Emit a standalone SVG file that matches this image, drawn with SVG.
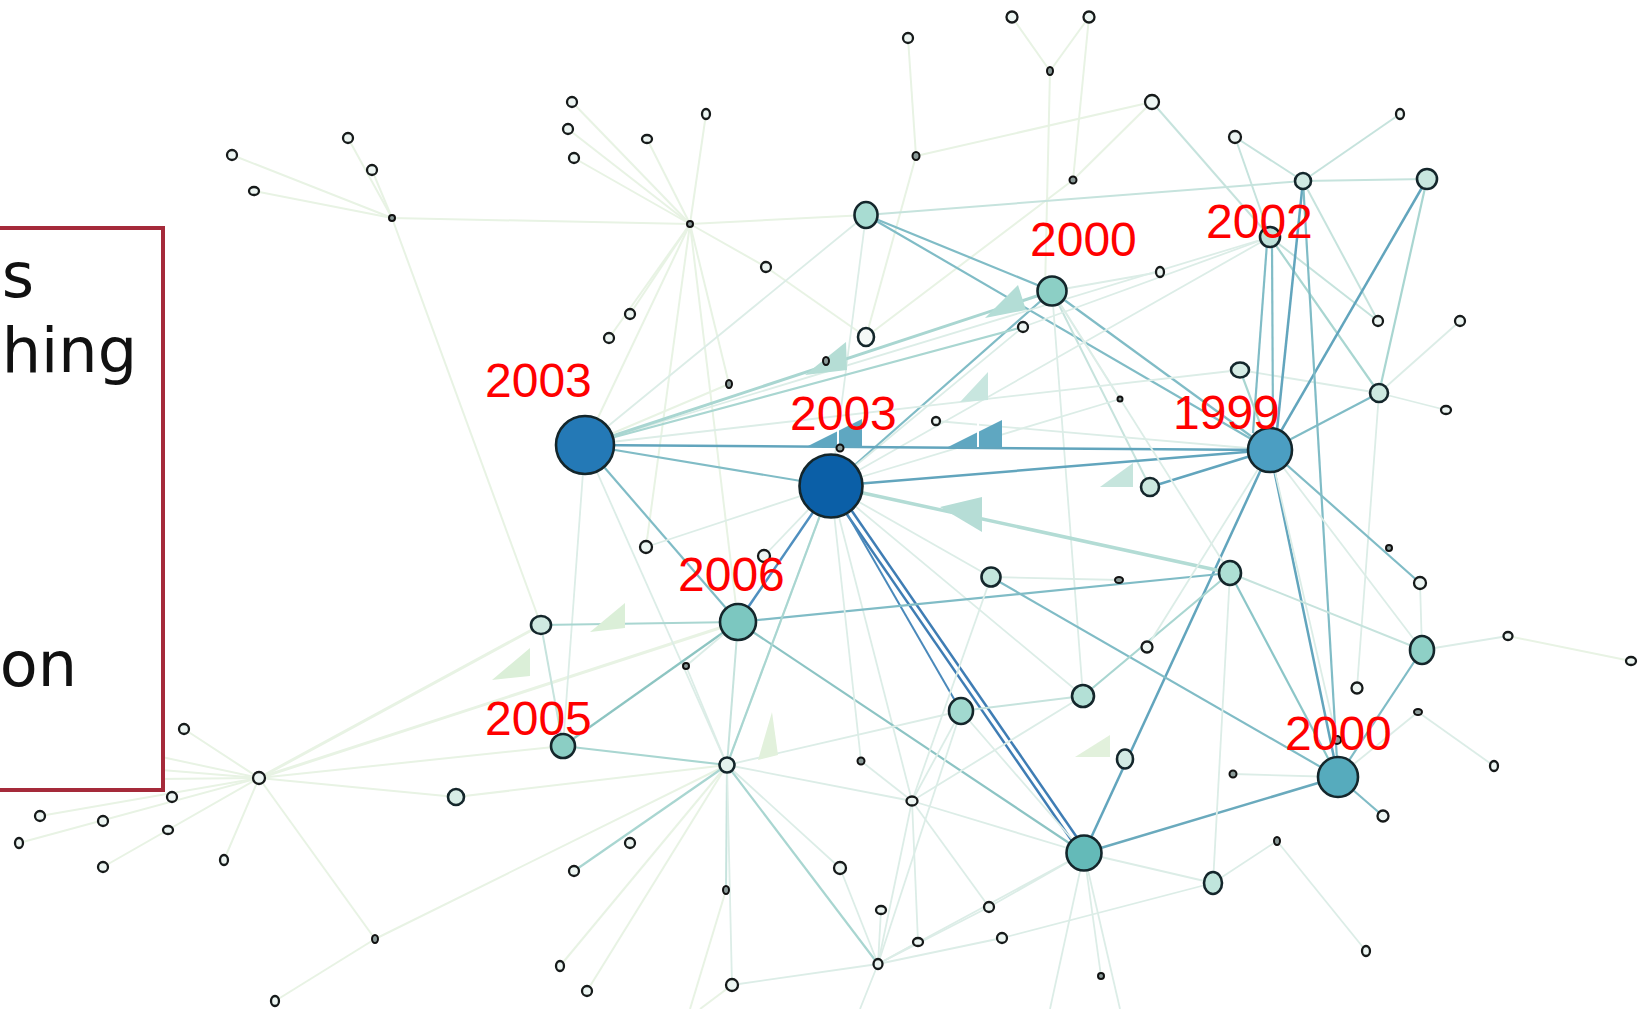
<svg xmlns="http://www.w3.org/2000/svg" width="1652" height="1009" viewBox="0 0 1652 1009">
<defs>
<style>
.p0{stroke:#e8f3e4;stroke-width:2;fill:none}
.p1{stroke:#dcede7;stroke-width:1.8;fill:none}
.p2{stroke:#c6e3dd;stroke-width:2;fill:none}
.t1{stroke:#a9d6d1;stroke-width:2.2;fill:none}
.t2{stroke:#80bcc6;stroke-width:2.2;fill:none}
.t3{stroke:#62a5bd;stroke-width:2.5;fill:none}
.b1{stroke:#3f7db4;stroke-width:2.5;fill:none}
.n{stroke:#14262b;stroke-width:2.6}
.s{fill:#edf6f3;stroke:#161a1a;stroke-width:2.3}
.d{fill:#8a9a98;stroke:#111;stroke-width:2}
.lbl{font-family:"Liberation Sans",Arial,sans-serif;font-size:48px;fill:#ff0000}
.box{font-family:"DejaVu Sans","Open Sans",sans-serif;font-size:62px;fill:#111}
</style>
</defs>
<rect width="1652" height="1009" fill="#ffffff"/>
<g id="edges">
<line class="p0" x1="259" y1="778" x2="184" y2="729"/>
<line class="p0" x1="259" y1="778" x2="40" y2="816"/>
<line class="p0" x1="259" y1="778" x2="19" y2="843"/>
<line class="p0" x1="259" y1="778" x2="103" y2="867"/>
<line class="p0" x1="259" y1="778" x2="224" y2="860"/>
<line class="p0" x1="259" y1="778" x2="375" y2="939"/>
<line class="p0" x1="259" y1="778" x2="456" y2="797"/>
<line class="p0" x1="259" y1="778" x2="738" y2="622" style="stroke-width:3"/>
<line class="p0" x1="259" y1="778" x2="541" y2="625" style="stroke-width:3"/>
<line class="p0" x1="259" y1="778" x2="563" y2="746"/>
<line class="p0" x1="259" y1="778" x2="60" y2="735"/>
<line class="p0" x1="259" y1="778" x2="40" y2="760"/>
<line class="p0" x1="259" y1="778" x2="60" y2="780"/>
<line class="p0" x1="375" y1="939" x2="275" y2="1001"/>
<line class="p0" x1="375" y1="939" x2="727" y2="765"/>
<line class="p0" x1="456" y1="797" x2="727" y2="765"/>
<line class="p0" x1="392" y1="218" x2="232" y2="155"/>
<line class="p0" x1="392" y1="218" x2="254" y2="191"/>
<line class="p0" x1="392" y1="218" x2="348" y2="138"/>
<line class="p0" x1="392" y1="218" x2="372" y2="170"/>
<line class="p0" x1="392" y1="218" x2="690" y2="224"/>
<line class="p0" x1="392" y1="218" x2="541" y2="625"/>
<line class="p0" x1="690" y1="224" x2="572" y2="102"/>
<line class="p0" x1="690" y1="224" x2="568" y2="129"/>
<line class="p0" x1="690" y1="224" x2="574" y2="158"/>
<line class="p0" x1="690" y1="224" x2="647" y2="139"/>
<line class="p0" x1="690" y1="224" x2="706" y2="114"/>
<line class="p0" x1="690" y1="224" x2="766" y2="267"/>
<line class="p0" x1="690" y1="224" x2="866" y2="215"/>
<line class="p0" x1="690" y1="224" x2="646" y2="547"/>
<line class="p0" x1="690" y1="224" x2="585" y2="445"/>
<line class="p0" x1="690" y1="224" x2="738" y2="622"/>
<line class="p0" x1="690" y1="224" x2="729" y2="384"/>
<line class="p0" x1="690" y1="224" x2="630" y2="314"/>
<line class="p0" x1="690" y1="224" x2="609" y2="338"/>
<line class="p0" x1="766" y1="267" x2="866" y2="337"/>
<line class="p0" x1="908" y1="38" x2="916" y2="156"/>
<line class="p0" x1="916" y1="156" x2="866" y2="337"/>
<line class="p0" x1="916" y1="156" x2="1152" y2="102"/>
<line class="p0" x1="1012" y1="17" x2="1050" y2="71"/>
<line class="p0" x1="1089" y1="17" x2="1050" y2="71"/>
<line class="p0" x1="1089" y1="17" x2="1073" y2="180"/>
<line class="p0" x1="1050" y1="71" x2="1045" y2="290"/>
<line class="p0" x1="1152" y1="102" x2="1073" y2="180"/>
<line class="p0" x1="1073" y1="180" x2="866" y2="337"/>
<line class="p2" x1="1152" y1="102" x2="1270" y2="237"/>
<line class="p2" x1="1235" y1="137" x2="1270" y2="237"/>
<line class="p2" x1="1235" y1="137" x2="1303" y2="181"/>
<line class="p2" x1="1400" y1="114" x2="1303" y2="181"/>
<line class="p2" x1="866" y1="215" x2="1303" y2="181"/>
<line class="p2" x1="1303" y1="181" x2="1427" y2="179"/>
<line class="t2" x1="866" y1="215" x2="1052" y2="291"/>
<line class="t2" x1="866" y1="215" x2="1270" y2="450"/>
<line class="p1" x1="866" y1="215" x2="585" y2="445"/>
<line class="p1" x1="866" y1="215" x2="831" y2="486"/>
<line class="t2" x1="1052" y1="291" x2="1270" y2="450"/>
<line class="t2" x1="831" y1="486" x2="1052" y2="291"/>
<line class="p1" x1="1052" y1="291" x2="1160" y2="272"/>
<line class="p2" x1="1052" y1="291" x2="1150" y2="487"/>
<line class="p1" x1="1052" y1="291" x2="1083" y2="696"/>
<line class="p1" x1="1052" y1="291" x2="1120" y2="399"/>
<line class="p1" x1="1270" y1="237" x2="1023" y2="327"/>
<line class="p1" x1="1270" y1="237" x2="831" y2="486"/>
<line class="p1" x1="1270" y1="237" x2="585" y2="445"/>
<line class="t1" x1="1270" y1="237" x2="1379" y2="393"/>
<line class="p2" x1="1270" y1="237" x2="1378" y2="321"/>
<line class="p2" x1="1303" y1="181" x2="1378" y2="321"/>
<line class="t1" x1="1427" y1="179" x2="1379" y2="393"/>
<line class="p1" x1="1460" y1="321" x2="1379" y2="393"/>
<line class="p1" x1="1379" y1="393" x2="1446" y2="410"/>
<line class="p1" x1="1379" y1="393" x2="1357" y2="688"/>
<line class="p1" x1="1240" y1="370" x2="1379" y2="393"/>
<line class="p1" x1="1023" y1="327" x2="831" y2="486"/>
<line class="p1" x1="936" y1="421" x2="1270" y2="450"/>
<line class="p1" x1="1120" y1="399" x2="831" y2="486"/>
<line class="p1" x1="1240" y1="370" x2="585" y2="445"/>
<line class="t3" x1="585" y1="445" x2="1270" y2="450"/>
<line class="t3" x1="831" y1="486" x2="1270" y2="450"/>
<line class="t3" x1="1427" y1="179" x2="1270" y2="450"/>
<line class="t3" x1="1303" y1="181" x2="1277" y2="430"/>
<line class="t2" x1="1267" y1="243" x2="1253" y2="433"/>
<line class="t2" x1="1272" y1="243" x2="1273" y2="430"/>
<line class="t2" x1="1270" y1="450" x2="1379" y2="393"/>
<line class="t3" x1="1270" y1="450" x2="1150" y2="487"/>
<line class="t1" x1="1270" y1="450" x2="1240" y2="370"/>
<line class="t3" x1="1270" y1="450" x2="1338" y2="777"/>
<line class="t2" x1="1303" y1="181" x2="1338" y2="777"/>
<line class="t3" x1="1270" y1="450" x2="1084" y2="853"/>
<line class="t2" x1="1270" y1="450" x2="1420" y2="583"/>
<line class="p1" x1="1270" y1="450" x2="1422" y2="650"/>
<line class="p1" x1="1270" y1="450" x2="1337" y2="740"/>
<line class="t2" x1="585" y1="445" x2="831" y2="486"/>
<line class="t2" x1="585" y1="445" x2="738" y2="622"/>
<line class="t1" x1="585" y1="445" x2="1052" y2="291" style="stroke-width:3"/>
<line class="t1" x1="585" y1="445" x2="1023" y2="327"/>
<line class="b1" x1="831" y1="486" x2="738" y2="622" style="stroke:#4f8fbf"/>
<line class="b1" x1="833.5" y1="484.3" x2="1086.5" y2="851.3"/>
<line class="b1" x1="828.5" y1="487.7" x2="1081.5" y2="854.7"/>
<line class="b1" x1="831" y1="486" x2="961" y2="711" style="stroke:#4a89bb;stroke-width:2"/>
<line class="t1" x1="831" y1="486" x2="1230" y2="573" style="stroke-width:3.5;stroke:#b3dcd5"/>
<line class="p1" x1="831" y1="486" x2="1083" y2="696"/>
<line class="p1" x1="831" y1="486" x2="912" y2="801"/>
<line class="p1" x1="831" y1="486" x2="727" y2="765"/>
<line class="p1" x1="585" y1="445" x2="727" y2="765"/>
<line class="p1" x1="585" y1="445" x2="563" y2="746"/>
<line class="p0" x1="585" y1="445" x2="729" y2="384"/>
<line class="p1" x1="646" y1="547" x2="831" y2="486"/>
<line class="p1" x1="764" y1="556" x2="831" y2="486"/>
<line class="t2" x1="738" y1="622" x2="1230" y2="573"/>
<line class="t2" x1="738" y1="622" x2="1084" y2="853" style="stroke:#8cc4c4"/>
<line class="t2" x1="991" y1="577" x2="1338" y2="777"/>
<line class="t2" x1="1230" y1="573" x2="1338" y2="777" style="stroke:#8cc6c8"/>
<line class="p2" x1="1230" y1="573" x2="1422" y2="650"/>
<line class="t1" x1="1083" y1="696" x2="1230" y2="573"/>
<line class="p2" x1="1083" y1="696" x2="961" y2="711"/>
<line class="t2" x1="1422" y1="650" x2="1338" y2="777"/>
<line class="t3" x1="1084" y1="853" x2="1338" y2="777" style="stroke:#6aaabd"/>
<line class="t2" x1="1338" y1="777" x2="1383" y2="816"/>
<line class="p1" x1="1338" y1="777" x2="1233" y2="774"/>
<line class="p1" x1="1338" y1="777" x2="1418" y2="712"/>
<line class="p1" x1="1418" y1="712" x2="1494" y2="766"/>
<line class="p1" x1="1422" y1="650" x2="1508" y2="636"/>
<line class="p0" x1="1508" y1="636" x2="1631" y2="661"/>
<line class="p1" x1="1422" y1="650" x2="1420" y2="583"/>
<line class="p1" x1="1277" y1="841" x2="1366" y2="951"/>
<line class="p1" x1="1213" y1="883" x2="1277" y2="841"/>
<line class="p1" x1="1213" y1="883" x2="1002" y2="938"/>
<line class="p1" x1="1230" y1="573" x2="1213" y2="883"/>
<line class="p1" x1="1230" y1="573" x2="1052" y2="291"/>
<line class="p1" x1="991" y1="577" x2="1119" y2="580"/>
<line class="p1" x1="991" y1="577" x2="831" y2="486"/>
<line class="p1" x1="961" y1="711" x2="912" y2="801"/>
<line class="p1" x1="961" y1="711" x2="1084" y2="853"/>
<line class="p1" x1="1083" y1="696" x2="912" y2="801"/>
<line class="p1" x1="1147" y1="647" x2="1270" y2="450"/>
<line class="t2" x1="563" y1="746" x2="738" y2="622" style="stroke:#8dc5c2"/>
<line class="t1" x1="563" y1="746" x2="727" y2="765"/>
<line class="t1" x1="541" y1="625" x2="738" y2="622"/>
<line class="p2" x1="541" y1="625" x2="563" y2="746"/>
<line class="t1" x1="727" y1="765" x2="831" y2="486"/>
<line class="t1" x1="727" y1="765" x2="574" y2="871"/>
<line class="p2" x1="727" y1="765" x2="726" y2="890"/>
<line class="t1" x1="727" y1="765" x2="878" y2="964"/>
<line class="p1" x1="727" y1="765" x2="732" y2="985"/>
<line class="p1" x1="727" y1="765" x2="912" y2="801"/>
<line class="p2" x1="727" y1="765" x2="738" y2="622"/>
<line class="p1" x1="727" y1="765" x2="686" y2="666"/>
<line class="p1" x1="727" y1="765" x2="961" y2="711"/>
<line class="p1" x1="727" y1="765" x2="840" y2="868"/>
<line class="p0" x1="727" y1="765" x2="560" y2="966"/>
<line class="p0" x1="727" y1="765" x2="587" y2="991"/>
<line class="p1" x1="686" y1="666" x2="738" y2="622"/>
<line class="p1" x1="912" y1="801" x2="861" y2="761"/>
<line class="p1" x1="912" y1="801" x2="991" y2="577"/>
<line class="p1" x1="912" y1="801" x2="878" y2="964"/>
<line class="p1" x1="912" y1="801" x2="989" y2="907"/>
<line class="p1" x1="912" y1="801" x2="918" y2="942"/>
<line class="p1" x1="878" y1="964" x2="881" y2="910"/>
<line class="p1" x1="878" y1="964" x2="918" y2="942"/>
<line class="p1" x1="878" y1="964" x2="989" y2="907"/>
<line class="p1" x1="878" y1="964" x2="1002" y2="938"/>
<line class="p1" x1="878" y1="964" x2="732" y2="985"/>
<line class="p1" x1="878" y1="964" x2="1084" y2="853"/>
<line class="p1" x1="878" y1="964" x2="961" y2="711"/>
<line class="p1" x1="878" y1="964" x2="840" y2="868"/>
<line class="p1" x1="878" y1="964" x2="860" y2="1009"/>
<line class="p1" x1="1084" y1="853" x2="1101" y2="976"/>
<line class="p1" x1="1084" y1="853" x2="912" y2="801"/>
<line class="p1" x1="1084" y1="853" x2="1213" y2="883"/>
<line class="p1" x1="1084" y1="853" x2="989" y2="907"/>
<line class="p1" x1="1084" y1="853" x2="1050" y2="1009"/>
<line class="p1" x1="1084" y1="853" x2="1120" y2="1009"/>
<line class="p1" x1="861" y1="761" x2="831" y2="486"/>
<line class="p0" x1="732" y1="985" x2="700" y2="1009"/>
<line class="p0" x1="726" y1="890" x2="690" y2="1009"/>
</g>
<g id="wedges">
<polygon points="806,447 862,419 862,447" fill="#5fa7c1"/>
<polygon points="948,447 1002,420 1002,447" fill="#5fa7c1"/>
<line x1="838" y1="420" x2="838" y2="447" stroke="#ffffff" stroke-width="2"/>
<line x1="978" y1="420" x2="978" y2="447" stroke="#ffffff" stroke-width="2"/>
<polygon points="985,318 1018,285 1026,310" fill="#b3ddd6"/>
<polygon points="805,375 846,342 847,370" fill="#b5ddd5"/>
<polygon points="960,402 988,372 988,400" fill="#c8e6df"/>
<polygon points="940,507 982,497 982,532" fill="#b6ddd6"/>
<polygon points="1100,487 1133,463 1133,487" fill="#c6e5dd"/>
<polygon points="492,680 530,648 530,676" fill="#dbefd8"/>
<polygon points="590,632 625,603 625,628" fill="#dbefd8"/>
<polygon points="758,760 772,712 778,755" fill="#e2f1dc"/>
<polygon points="1075,757 1110,735 1110,757" fill="#e2f1dc"/>
</g>
<g id="nodes">
<g id="n2003a"><circle class="n" cx="585" cy="445" r="29" fill="#2479b6"/></g>
<g id="n2003b"><circle class="n" cx="831" cy="486" r="31.5" fill="#0b5fa7"/></g>
<g id="n1999"><circle class="n" cx="1270" cy="450" r="22" fill="#4b9ec2"/></g>
<g id="n2000b"><circle class="n" cx="1338" cy="777" r="20" fill="#56abbd"/></g>
<g id="nI"><circle class="n" cx="1084" cy="853" r="17.5" fill="#64bab8"/></g>
<g id="n2006"><circle class="n" cx="738" cy="622" r="18" fill="#7cc7c0"/></g>
<g id="n2000a"><circle class="n" cx="1052" cy="291" r="14.5" fill="#8ccfc5"/></g>
<g id="nS"><ellipse class="n" cx="1422" cy="650" rx="12" ry="14" fill="#8ed0c6"/></g>
<g id="nQ"><ellipse class="n" cx="961" cy="711" rx="12" ry="13" fill="#a1d9cf"/></g>
<g id="n2005"><circle class="n" cx="563" cy="746" r="12" fill="#8bcec4"/></g>
<g id="nJ"><ellipse class="n" cx="866" cy="215" rx="11.5" ry="13" fill="#a8dcd2"/></g>
<g id="nO"><ellipse class="n" cx="1230" cy="573" rx="11" ry="12" fill="#addfd4"/></g>
<g id="nR"><circle class="n" cx="1083" cy="696" r="11" fill="#b3e0d6"/></g>
<g id="nII"><ellipse class="n" cx="1213" cy="883" rx="9" ry="11" fill="#c0e5dc"/></g>
<g id="nP"><circle class="n" cx="991" cy="577" r="9.5" fill="#c3e6dd"/></g>
<g id="nE"><circle class="n" cx="1270" cy="237" r="10" fill="#c0e2da"/></g>
<g id="nL"><circle class="n" cx="1427" cy="179" r="10" fill="#c8e7df"/></g>
<g id="nK"><circle class="n" cx="1303" cy="181" r="8" fill="#d0e9e2"/></g>
<g id="nM"><circle class="n" cx="1379" cy="393" r="9" fill="#cde9e0"/></g>
<g id="nBB"><ellipse class="n" cx="1240" cy="370" rx="9" ry="7.5" fill="#d6ece5"/></g>
<g id="nN"><circle class="n" cx="1150" cy="487" r="9" fill="#cbe8df"/></g>
<g id="nT"><ellipse class="n" cx="1125" cy="759" rx="8" ry="9.5" fill="#d3ebe4"/></g>
<g id="nU"><ellipse class="n" cx="541" cy="625" rx="10" ry="9" fill="#cfe9e1"/></g>
<g id="nV"><circle class="n" cx="727" cy="765" r="7.5" fill="#e3f2ed"/></g>
<g id="nd2"><circle class="n" cx="456" cy="797" r="8" fill="#d7ede6"/></g>
<g id="nKK"><ellipse class="n" cx="866" cy="337" rx="8" ry="9" fill="#f4f9f7"/></g>
<g id="nQQ"><circle class="s" cx="1152" cy="102" r="7"/></g>
<g id="nW"><circle class="s" cx="259" cy="778" r="6"/></g>
<g id="nZ"><ellipse class="s" cx="912" cy="801" rx="5.5" ry="4.5"/></g>
<g id="nAA"><ellipse class="s" cx="878" cy="964" rx="4.5" ry="5"/></g>
<g id="nJJ"><circle class="s" cx="1147" cy="647" r="5.5"/></g>
<g id="nFF"><circle class="s" cx="1357" cy="688" r="5.5"/></g>
<g id="nHH"><circle class="s" cx="1383" cy="816" r="5.5"/></g>
<g id="nSS"><circle class="s" cx="1012" cy="17" r="5.5"/></g>
<g id="nTT"><circle class="s" cx="1089" cy="17" r="5.5"/></g>
<g id="nUU"><circle class="s" cx="908" cy="38" r="5"/></g>
<g id="nPP"><ellipse class="s" cx="1400" cy="114" rx="4" ry="5"/></g>
<g id="nOO"><circle class="s" cx="1235" cy="137" r="6"/></g>
<g id="nt1"><circle class="s" cx="572" cy="102" r="5"/></g>
<g id="nt2"><circle class="s" cx="568" cy="129" r="5"/></g>
<g id="nt3"><circle class="s" cx="574" cy="158" r="5"/></g>
<g id="nt4"><ellipse class="s" cx="647" cy="139" rx="5" ry="4"/></g>
<g id="nt5"><ellipse class="s" cx="706" cy="114" rx="4" ry="5"/></g>
<g id="nl1"><circle class="s" cx="232" cy="155" r="5"/></g>
<g id="nl2"><circle class="s" cx="348" cy="138" r="5"/></g>
<g id="nl3"><circle class="s" cx="372" cy="170" r="5"/></g>
<g id="nl4"><ellipse class="s" cx="254" cy="191" rx="5" ry="4"/></g>
<g id="nd6"><circle class="s" cx="766" cy="267" r="5"/></g>
<g id="nd5"><circle class="s" cx="630" cy="314" r="5"/></g>
<g id="nd4"><circle class="s" cx="609" cy="338" r="5"/></g>
<g id="nMM"><circle class="s" cx="1023" cy="327" r="5"/></g>
<g id="nNN"><ellipse class="s" cx="1160" cy="272" rx="4" ry="5"/></g>
<g id="nXX"><circle class="s" cx="1378" cy="321" r="5"/></g>
<g id="nYY"><circle class="s" cx="1460" cy="321" r="5"/></g>
<g id="nZZ"><ellipse class="s" cx="1446" cy="410" rx="5" ry="4"/></g>
<g id="na2"><circle class="s" cx="936" cy="421" r="4"/></g>
<g id="na4"><circle class="s" cx="646" cy="547" r="6"/></g>
<g id="na5"><circle class="s" cx="764" cy="556" r="6"/></g>
<g id="nCC"><circle class="s" cx="1420" cy="583" r="6"/></g>
<g id="na7"><ellipse class="s" cx="1508" cy="636" rx="4.5" ry="4"/></g>
<g id="na8"><ellipse class="s" cx="1631" cy="661" rx="5" ry="4"/></g>
<g id="nb1"><ellipse class="s" cx="1494" cy="766" rx="4" ry="5"/></g>
<g id="nw1"><circle class="s" cx="184" cy="729" r="5"/></g>
<g id="nw2"><circle class="s" cx="172" cy="797" r="5"/></g>
<g id="nw3"><circle class="s" cx="40" cy="816" r="5"/></g>
<g id="nw4"><circle class="s" cx="103" cy="821" r="5"/></g>
<g id="nw5"><ellipse class="s" cx="168" cy="830" rx="5" ry="4"/></g>
<g id="nw6"><ellipse class="s" cx="19" cy="843" rx="4" ry="5"/></g>
<g id="nw7"><circle class="s" cx="103" cy="867" r="5"/></g>
<g id="nw8"><ellipse class="s" cx="224" cy="860" rx="4" ry="5"/></g>
<g id="nc7"><ellipse class="s" cx="275" cy="1001" rx="4" ry="5"/></g>
<g id="nb5"><circle class="s" cx="630" cy="843" r="5"/></g>
<g id="nb6"><circle class="s" cx="574" cy="871" r="5"/></g>
<g id="nb7"><circle class="s" cx="840" cy="868" r="6"/></g>
<g id="nb9"><ellipse class="s" cx="881" cy="910" rx="5" ry="4"/></g>
<g id="nc1"><circle class="s" cx="989" cy="907" r="5"/></g>
<g id="nc2"><circle class="s" cx="1002" cy="938" r="5"/></g>
<g id="nc3"><ellipse class="s" cx="918" cy="942" rx="5" ry="4"/></g>
<g id="nc5"><ellipse class="s" cx="1366" cy="951" rx="4" ry="5"/></g>
<g id="nc8"><ellipse class="s" cx="560" cy="966" rx="4" ry="5"/></g>
<g id="nc9"><circle class="s" cx="587" cy="991" r="5"/></g>
<g id="nd1"><circle class="s" cx="732" cy="985" r="6"/></g>
<g id="nX"><circle class="d" cx="690" cy="224" r="3"/></g>
<g id="nY"><circle class="d" cx="392" cy="218" r="3"/></g>
<g id="na3"><circle class="d" cx="840" cy="448" r="3.5"/></g>
<g id="nLL"><ellipse class="d" cx="826" cy="361" rx="3" ry="4"/></g>
<g id="nd3"><ellipse class="d" cx="729" cy="384" rx="3" ry="4"/></g>
<g id="na6"><circle class="d" cx="686" cy="666" r="3"/></g>
<g id="nEE"><ellipse class="d" cx="1119" cy="580" rx="4" ry="3"/></g>
<g id="na1"><circle class="d" cx="1120" cy="399" r="2.5"/></g>
<g id="nDD"><circle class="d" cx="1389" cy="548" r="3"/></g>
<g id="nGG"><circle class="d" cx="1337" cy="740" r="4"/></g>
<g id="nb2"><circle class="d" cx="861" cy="761" r="3.5"/></g>
<g id="nb3"><circle class="d" cx="1233" cy="774" r="3.5"/></g>
<g id="nb4"><ellipse class="d" cx="1277" cy="841" rx="3" ry="4"/></g>
<g id="nWW"><circle class="d" cx="1073" cy="180" r="3.5"/></g>
<g id="nVV"><ellipse class="d" cx="916" cy="156" rx="3.5" ry="4"/></g>
<g id="nRR"><ellipse class="d" cx="1050" cy="71" rx="3" ry="4"/></g>
<g id="na9"><ellipse class="d" cx="1418" cy="712" rx="4" ry="3"/></g>
<g id="nc4"><circle class="d" cx="1101" cy="976" r="3"/></g>
<g id="nc6"><ellipse class="d" cx="375" cy="939" rx="3" ry="4"/></g>
<g id="nb8"><ellipse class="d" cx="726" cy="890" rx="3" ry="4"/></g>
</g>
<g id="labels">
<text class="lbl" x="485" y="397">2003</text>
<text class="lbl" x="790" y="430">2003</text>
<text class="lbl" x="678" y="591">2006</text>
<text class="lbl" x="485" y="735">2005</text>
<text class="lbl" x="1030" y="256">2000</text>
<text class="lbl" x="1206" y="238">2002</text>
<text class="lbl" x="1173" y="429">1999</text>
<text class="lbl" x="1285" y="750">2000</text>
</g>
<g id="textbox">
<rect x="-10" y="228" width="173" height="562" fill="#ffffff" stroke="#a52a3a" stroke-width="4"/>
<text class="box" x="34" y="297" text-anchor="end">s</text>
<text class="box" x="137" y="372" text-anchor="end">hing</text>
<text class="box" x="77" y="686" text-anchor="end">on</text>
</g>
</svg>
